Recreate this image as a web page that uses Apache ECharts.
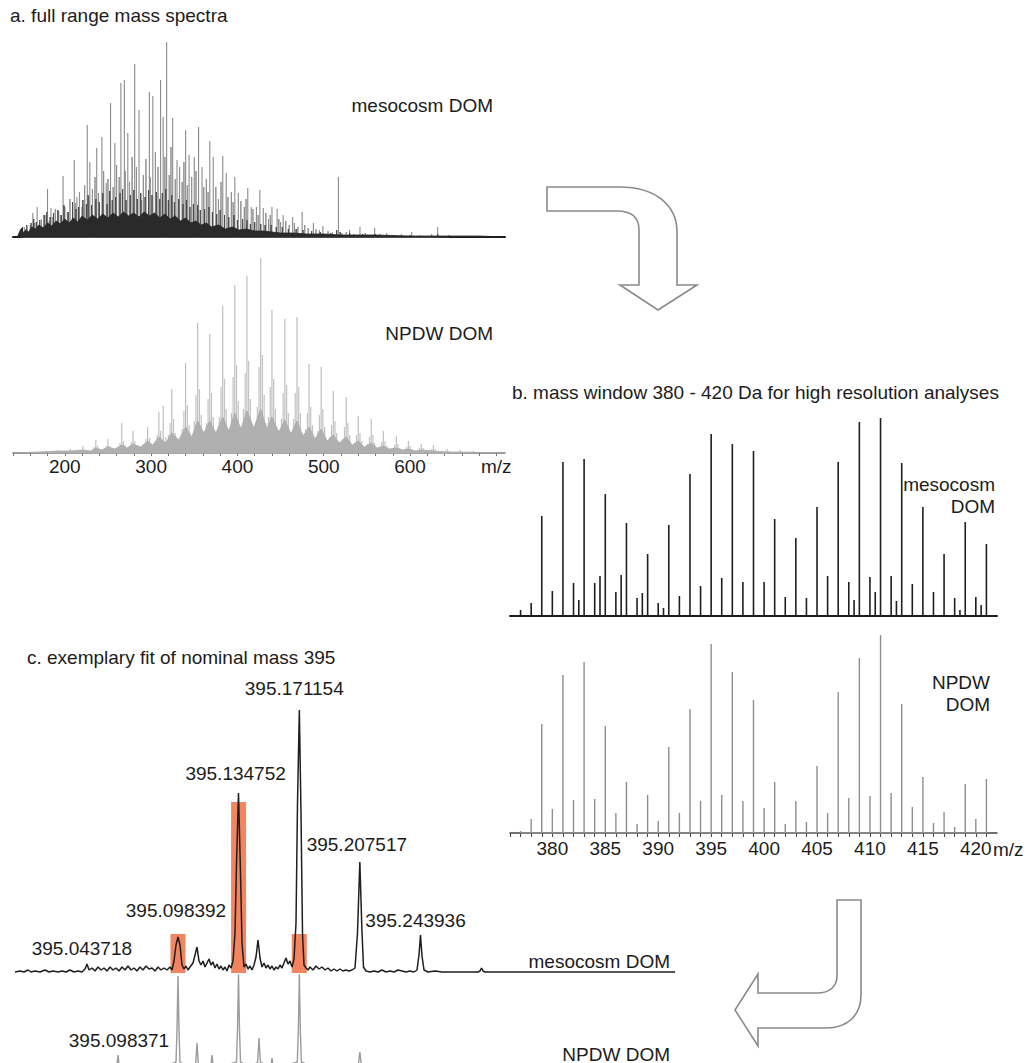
<!DOCTYPE html>
<html><head><meta charset="utf-8">
<script src="https://cdn.jsdelivr.net/npm/echarts@6.0.0/dist/echarts.min.js"></script>
<style>html,body{margin:0;padding:0;background:#fff}#c{width:1030px;height:1063px}</style>
</head><body><div id="c"></div>
<script>
// ---------- panel a: full range spectra (m/z, relative intensity) ----------
const aTicks = [200, 300, 400, 500, 600];
const mesoAMain = [[153,10],[163,24],[168,30],[180,48],[184,29],[193,26],[198,61],[211,77],[214,40],[226,112],[229,75],[237,89],[243,100],[248,54],[253,134],[258,94],[265,154],[269,157],[273,104],[281,173],[286,127],[289,37],[298,145],[302,141],[311,157],[314,120],[318,195],[325,119],[330,77],[340,107],[344,82],[350,80],[355,110],[359,70],[368,96],[372,80],[383,81],[387,64],[397,60],[401,44],[412,49],[416,30],[426,47],[430,29],[440,30],[446,28],[453,22],[464,20],[475,25],[488,14],[499,11],[517,60],[530,7],[542,10],[559,9],[573,4],[602,5],[632,10]];
const mesoAFill = [[150,6],[154,8],[157,5],[160,12],[165,14],[170,10],[173,18],[177,22],[182,16],[186,20],[189,28],[195,22],[200,30],[203,25],[206,38],[212,34],[217,45],[220,30],[223,52],[228,40],[232,48],[235,60],[239,44],[245,66],[250,58],[256,50],[260,72],[263,60],[270,66],[275,55],[278,80],[283,70],[291,62],[294,78],[299,60],[305,85],[308,70],[316,80],[321,62],[323,90],[328,58],[333,70],[336,55],[338,75],[342,52],[347,60],[352,66],[361,50],[364,58],[366,45],[375,50],[378,38],[381,55],[389,40],[393,45],[395,35],[404,36],[408,30],[410,38],[418,28],[422,30],[424,22],[433,24],[436,18],[438,22],[448,18],[450,15],[456,16],[460,12],[466,14],[470,10],[478,12],[482,9],[491,8],[495,7],[505,6],[510,5],[521,4],[526,5],[535,3],[548,4],[565,3],[580,2],[590,3],[612,2],[625,3],[645,2]];
const mesoAMid = [[151,10],[156,12],[161,14],[164,18],[167,15],[171,17],[176,22],[179,25],[183,20],[187,24],[192,27],[196,22],[199,32],[204,25],[209,35],[213,28],[216,30],[221,37],[225,33],[227,42],[231,32],[236,38],[240,35],[244,44],[249,33],[252,46],[255,37],[259,40],[264,44],[267,48],[271,37],[276,42],[280,47],[284,38],[288,44],[293,40],[297,47],[301,42],[306,45],[310,38],[313,44],[317,48],[320,37],[324,42],[327,35],[332,38],[337,33],[341,37],[345,30],[349,33],[354,32],[357,27],[362,28],[367,30],[371,25],[376,23],[380,27],[385,22],[390,20],[396,22],[400,17],[406,18],[411,17],[415,13],[420,15],[427,13],[432,12],[439,12],[445,10],[452,10],[459,8],[468,8],[476,7],[486,6],[496,5],[508,4],[515,7],[519,5],[530,4],[545,3],[560,3],[575,2],[600,2],[632,3]];
const mesoAFloor = [[145,0],[148,6],[150,9],[152,4],[155,7],[158,5],[162,10],[166,8],[170,12],[175,9],[180,14],[185,11],[190,16],[195,13],[200,18],[205,14],[210,19],[215,15],[220,21],[226,17],[232,22],[238,18],[244,23],[250,19],[256,24],[262,20],[268,25],[274,21],[280,24],[286,20],[292,25],[298,21],[304,24],[310,19],[316,23],[322,18],[328,21],[334,16],[340,19],[346,14],[352,16],[358,12],[364,14],[370,10],[378,12],[386,8],[394,10],[402,7],[410,8],[420,6],[430,6],[440,5],[450,4],[465,4],[480,3],[500,3],[520,2],[560,2],[600,1],[640,1],[680,1],[708,0]];
const npdwAMain = [[179,2],[192,3],[206,4],[221,7],[236,13],[250,14],[266,30],[279,22],[296,26],[309,41],[314,47],[324,64],[340,90],[354,130],[368,119],[383,147],[397,168],[411,177],[427,195],[440,143],[455,134],[469,136],[483,89],[497,86],[511,62],[526,56],[540,37],[555,34],[569,22],[584,17],[598,12],[613,9],[627,8],[643,4],[658,3],[673,2]];
const npdwAFill = [[232,3],[234,6],[238,7],[240,4],[246,4],[248,7],[252,7],[254,4],[262,6],[264,10],[268,12],[270,8],[275,7],[277,11],[281,12],[283,7],[292,9],[294,14],[298,15],[300,9],[305,12],[307,18],[311,22],[317,16],[320,18],[322,30],[326,34],[328,20],[330,10],[336,24],[338,42],[342,48],[344,28],[346,14],[350,32],[352,58],[356,64],[358,38],[360,18],[364,30],[366,54],[370,60],[372,36],[374,18],[379,36],[381,66],[385,74],[387,44],[389,22],[393,40],[395,76],[399,88],[401,52],[403,26],[407,44],[409,80],[413,92],[415,54],[417,28],[423,46],[425,86],[429,98],[431,58],[433,30],[436,36],[438,66],[442,74],[444,44],[446,22],[451,34],[453,60],[457,68],[459,40],[461,20],[465,34],[467,60],[471,66],[473,40],[475,20],[479,24],[481,40],[485,46],[487,28],[489,14],[493,22],[495,38],[499,44],[501,26],[503,12],[507,16],[509,28],[513,32],[515,20],[517,10],[522,14],[524,26],[528,30],[530,18],[536,10],[538,18],[542,20],[544,12],[551,9],[553,16],[557,18],[559,10],[565,6],[567,11],[571,12],[573,7],[580,5],[582,8],[586,9],[588,5],[596,6],[600,7],[602,4],[611,5],[615,5],[625,4],[629,4],[641,2],[645,2]];
const npdwAFloor = [[145,0],[170,1],[192,2],[206,2],[221,3],[230,2],[236,5],[243,3],[250,6],[258,4],[266,8],[272,5],[279,9],[288,6],[296,12],[302,8],[309,16],[317,10],[324,20],[332,13],[340,26],[347,16],[354,32],[361,20],[368,32],[375,20],[383,36],[390,22],[397,40],[404,24],[411,42],[419,25],[427,44],[434,24],[440,36],[448,21],[455,33],[462,19],[469,32],[476,17],[483,26],[490,14],[497,24],[504,12],[511,18],[518,10],[526,16],[533,8],[540,12],[547,6],[555,10],[562,5],[569,7],[576,4],[584,5],[591,3],[598,4],[606,2],[613,3],[627,2],[643,1],[660,1],[708,0]];

// ---------- panel b: mass window 380-420 ----------
const bTicks = [380, 385, 390, 395, 400, 405, 410, 415, 420];
const bMz = [377,378,379,380,381,382,383,384,385,386,387,388,389,390,391,392,393,394,395,396,397,398,399,400,401,402,403,404,405,406,407,408,409,410,411,412,413,414,415,416,417,418,419,420,421];
const bMeso = [6,13,100,25,154,33,157,33,122,24,93,18,62,13,91,20,142,30,182,38,172,34,165,34,97,19,78,18,109,40,154,34,194,39,198,40,153,32,109,24,62,18,94,19,72];
const bNpdw = [2,14,109,24,158,33,171,34,107,20,51,9,38,12,86,20,124,32,189,38,161,32,133,25,51,9,32,11,67,20,141,35,175,37,198,40,129,26,56,10,21,6,49,14,54];
const bMesoHalfMz = [382.5,384.5,386.5,388.5,390.5,408.5,410.5,412.5,418.5,420.5];
const bMesoHalf = [16,40,41,23,8,16,24,15,6,11];

// ---------- panel c: nominal mass 395 ----------
const cMeso = [[395.0006,1],[395.0036,2],[395.0060,1],[395.0084,3],[395.0102,1],[395.0126,2],[395.0156,1],[395.0186,3],[395.0210,1],[395.0234,2],[395.0264,1],[395.0288,2],[395.0312,1],[395.0336,3],[395.0360,1],[395.0384,2],[395.0408,1],[395.0426,4],[395.0438,9],[395.0450,3],[395.0468,5],[395.0486,2],[395.0504,6],[395.0522,3],[395.0540,5],[395.0558,2],[395.0576,6],[395.0594,3],[395.0612,5],[395.0630,2],[395.0648,6],[395.0666,3],[395.0684,7],[395.0702,3],[395.0720,5],[395.0738,2],[395.0756,6],[395.0774,3],[395.0792,7],[395.0810,4],[395.0828,5],[395.0846,2],[395.0864,6],[395.0882,3],[395.0900,5],[395.0918,3],[395.0936,6],[395.0948,3],[395.0960,12],[395.0972,28],[395.0984,36],[395.0996,28],[395.1008,8],[395.1020,4],[395.1032,7],[395.1044,3],[395.1056,6],[395.1074,10],[395.1086,18],[395.1098,26],[395.1110,12],[395.1122,8],[395.1134,12],[395.1146,6],[395.1158,10],[395.1170,14],[395.1182,8],[395.1194,11],[395.1206,5],[395.1218,9],[395.1230,4],[395.1242,7],[395.1254,3],[395.1266,6],[395.1278,2],[395.1290,8],[395.1302,5],[395.1314,12],[395.1326,40],[395.1335,110],[395.1347,180],[395.1359,100],[395.1368,30],[395.1380,6],[395.1392,9],[395.1404,4],[395.1416,7],[395.1428,3],[395.1440,8],[395.1452,16],[395.1464,33],[395.1476,15],[395.1488,6],[395.1500,10],[395.1512,5],[395.1524,8],[395.1536,4],[395.1548,7],[395.1560,3],[395.1572,6],[395.1584,4],[395.1596,8],[395.1608,5],[395.1620,10],[395.1632,15],[395.1644,9],[395.1656,12],[395.1668,6],[395.1680,14],[395.1692,50],[395.1701,170],[395.1712,263],[395.1722,160],[395.1731,40],[395.1740,8],[395.1752,5],[395.1764,3],[395.1776,6],[395.1794,3],[395.1812,7],[395.1830,4],[395.1848,6],[395.1866,3],[395.1884,5],[395.1902,2],[395.1920,4],[395.1938,2],[395.1956,4],[395.1974,2],[395.1992,3],[395.2010,2],[395.2028,3],[395.2046,5],[395.2061,40],[395.2075,111],[395.2087,45],[395.2097,6],[395.2112,2],[395.2136,1],[395.2160,2],[395.2184,1],[395.2208,3],[395.2232,1],[395.2256,2],[395.2280,1],[395.2304,3],[395.2328,2],[395.2352,1],[395.2376,2],[395.2400,1],[395.2418,3],[395.2430,18],[395.2439,38],[395.2448,17],[395.2460,3],[395.2484,1],[395.2526,2],[395.2568,1],[395.2628,1],[395.2706,1],[395.2784,1],[395.2796,2],[395.2805,5],[395.2814,2],[395.2826,1],[395.2916,1],[395.3036,1],[395.3186,1],[395.3336,1],[395.3516,1],[395.3696,1],[395.3876,1],[395.3966,1]];
const cNpdw = [[395.0000,1],[395.0400,2],[395.0600,3],[395.0618,5],[395.0624,15],[395.0630,5],[395.0650,2],[395.0900,3],[395.0972,8],[395.0978,40],[395.0984,94],[395.0990,40],[395.0996,8],[395.1040,3],[395.1090,6],[395.1098,27],[395.1106,6],[395.1160,3],[395.1182,5],[395.1188,15],[395.1194,5],[395.1240,3],[395.1335,8],[395.1341,40],[395.1347,96],[395.1353,40],[395.1359,8],[395.1420,3],[395.1462,8],[395.1470,32],[395.1478,8],[395.1520,4],[395.1542,5],[395.1548,12],[395.1554,5],[395.1600,3],[395.1700,8],[395.1706,40],[395.1712,96],[395.1718,40],[395.1724,8],[395.1800,3],[395.2066,5],[395.2075,18],[395.2084,5],[395.2200,2],[395.2439,5],[395.2600,1],[395.4000,1]];
const cFitMz = [395.098392, 395.134752, 395.171154];
const cFitInt = [39, 171, 39];
const cLabelMz = [395.043718, 395.098392, 395.134752, 395.171154, 395.207517, 395.243936];
const cLabelInt = [9, 36, 180, 263, 111, 38];
const cNpdwLabelMz = [395.098371];
const cNpdwLabelInt = [94];

// ---------- build ----------
const FONT = '"Liberation Sans", Arial, Helvetica, sans-serif';
const TXT = '#1c1c1c';
function sticks(pairs){ const o=[]; pairs.slice().sort((a,b)=>a[0]-b[0]).forEach(([m,h])=>{o.push([m,0],[m,h],[m,0]);}); return o; }
function zip(xs, ys){ return xs.map((x,i)=>[x, ys[i]]); }

const grids = [
  {left:13, width:492, top:37, height:200},
  {left:13, width:492, top:253, height:200},
  {left:510, width:487, top:416, height:200},
  {left:510, width:487, top:633, height:200},
  {left:14, width:665, top:700, height:273},
  {left:14, width:665, top:975, height:95}
].map(g=>Object.assign({outerBoundsMode:'none', containLabel:false}, g));

const hiddenY = (max, gi) => ({type:'value', gridIndex:gi, min:0, max:max, show:false});

const xAxes = [
  {type:'value', gridIndex:0, min:140, max:710, interval:20,
   axisLine:{lineStyle:{color:'#1e1e1e', width:2}}, axisTick:{show:false}, axisLabel:{show:false}, splitLine:{show:false}},
  {type:'value', gridIndex:1, min:140, max:710, interval:20,
   axisLine:{lineStyle:{color:'#777', width:1.5}}, axisTick:{show:true, length:3, lineStyle:{color:'#777'}},
   axisLabel:{margin:4, fontSize:19, fontFamily:FONT, color:TXT, interval:0, showMaxLabel:false,
     formatter:v=>aTicks.includes(v)?String(v):''}, splitLine:{show:false}},
  {type:'value', gridIndex:2, min:376, max:422, interval:1,
   axisLine:{lineStyle:{color:'#1e1e1e', width:2}}, axisTick:{show:false}, axisLabel:{show:false}, splitLine:{show:false}},
  {type:'value', gridIndex:3, min:376, max:422, interval:1,
   axisLine:{lineStyle:{color:'#444', width:1.5}}, axisTick:{show:true, length:4, lineStyle:{color:'#444'}},
   axisLabel:{margin:6, fontSize:19, fontFamily:FONT, color:TXT, interval:0, showMaxLabel:false,
     formatter:v=>bTicks.includes(v)?String(v):''}, splitLine:{show:false}},
  {type:'value', gridIndex:4, min:395.0, max:395.399, show:false},
  {type:'value', gridIndex:5, min:395.0, max:395.399, show:false}
];
const yAxes = [hiddenY(200,0), hiddenY(200,1), hiddenY(200,2), hiddenY(200,3), hiddenY(273,4), hiddenY(95,5)];

const lineBase = {type:'line', showSymbol:false, symbol:'none', silent:true, animation:false, smooth:false};

// decorative arrows (outline shapes in pixel space)
const arrowPaths = [
  'M547 187 L620 187 C655 187 677 205 677 232 L677 285 L697 285 L658 310 L620 285 L639 285 L639 230 C639 218 632 211 617 211 L547 211 Z',
  'M837 900 L861 900 L861 995 C861 1015 848 1028 826 1028 L758 1028 L758 1046 L735 1010 L758 974 L758 993 L817 993 C830 993 837 986 837 976 Z'
];

const labelScatter = (xi, data, offsets) => ({
  type:'scatter', xAxisIndex:xi, yAxisIndex:xi, symbolSize:1, silent:true, animation:false, z:5,
  itemStyle:{color:'rgba(0,0,0,0)', opacity:1},
  data:data.map((v,i)=>({value:v, label:{offset:offsets[i]}})),
  label:{show:true, position:'inside', fontSize:19, fontFamily:FONT, color:TXT, opacity:1, textBorderWidth:0, formatter:p=>p.value[0].toFixed(6)}
});

const series = [
  Object.assign({}, lineBase, {xAxisIndex:0, yAxisIndex:0, data:sticks(mesoAFill), lineStyle:{color:'#8f8f8f', width:1}, z:2}),
  Object.assign({}, lineBase, {xAxisIndex:0, yAxisIndex:0, data:sticks(mesoAMain), lineStyle:{color:'#8a8a8a', width:1.1}, z:3}),
  Object.assign({}, lineBase, {xAxisIndex:0, yAxisIndex:0, data:sticks(mesoAMid), lineStyle:{color:'#4a4a4a', width:1}, z:4}),
  Object.assign({}, lineBase, {xAxisIndex:0, yAxisIndex:0, data:mesoAFloor, lineStyle:{color:'#262626', width:0.8}, areaStyle:{color:'#2a2a2a', opacity:1}, z:5}),

  Object.assign({}, lineBase, {xAxisIndex:1, yAxisIndex:1, data:sticks(npdwAFill), lineStyle:{color:'#c2c2c2', width:1.2}, z:2}),
  Object.assign({}, lineBase, {xAxisIndex:1, yAxisIndex:1, data:sticks(npdwAMain), lineStyle:{color:'#b8b8b8', width:1.1}, z:3}),
  Object.assign({}, lineBase, {xAxisIndex:1, yAxisIndex:1, data:npdwAFloor, lineStyle:{color:'#aaaaaa', width:0.8}, areaStyle:{color:'#b0b0b0', opacity:1}, z:4}),

  Object.assign({}, lineBase, {xAxisIndex:2, yAxisIndex:2, data:sticks(zip(bMz,bMeso).concat(zip(bMesoHalfMz,bMesoHalf))), lineStyle:{color:'#1e1e1e', width:1.6}, z:3}),
  Object.assign({}, lineBase, {xAxisIndex:3, yAxisIndex:3, data:sticks(zip(bMz,bNpdw)), lineStyle:{color:'#8e8e8e', width:1.4}, z:3}),

  {type:'bar', xAxisIndex:4, yAxisIndex:4, data:zip(cFitMz,cFitInt), barWidth:15, itemStyle:{color:'#f2855f'}, silent:true, animation:false, z:1},
  Object.assign({}, lineBase, {xAxisIndex:4, yAxisIndex:4, data:cMeso, lineStyle:{color:'#1e1e1e', width:1.5}, z:3}),
  labelScatter(4, zip(cLabelMz, cLabelInt), [[-5,-16],[-2,-27],[-3,-20],[-5,-22],[-3,-18],[-5,-15]]),
  Object.assign({}, lineBase, {xAxisIndex:5, yAxisIndex:5, data:cNpdw, lineStyle:{color:'#9c9c9c', width:1.4}, z:2}),
  labelScatter(5, zip(cNpdwLabelMz, cNpdwLabelInt), [[-59,64]]),
  {type:'custom', coordinateSystem:'none', silent:true, animation:false, z:9, data:[0],
   renderItem:()=>({type:'group', children:arrowPaths.map(d=>({type:'path', shape:{pathData:d}, style:{fill:'#fff', stroke:'#8a8a8a', lineWidth:1.6}}))})}
];

function txt(text, x, y, align){ return {type:'text', silent:true, z:10, style:{text:text, x:x, y:y, fill:TXT, font:'19px '+FONT, textAlign:align||'left', align:align||'left', textVerticalAlign:'middle', verticalAlign:'middle'}}; }

const graphics = [
  txt('a. full range mass spectra', 10, 15),
  txt('mesocosm DOM', 493, 105, 'right'),
  txt('NPDW DOM', 493, 333, 'right'),
  txt('m/z', 481, 466),
  txt('b. mass window 380 - 420 Da for high resolution analyses', 512, 392),
  txt('mesocosm', 995, 484, 'right'),
  txt('DOM', 995, 506, 'right'),
  txt('NPDW', 990, 682, 'right'),
  txt('DOM', 990, 704, 'right'),
  txt('m/z', 993, 849),
  txt('c. exemplary fit of nominal mass 395', 27, 657),
  txt('mesocosm DOM', 670, 961, 'right'),
  txt('NPDW DOM', 670, 1054, 'right')
];

const chart = echarts.init(document.getElementById('c'), null, {renderer:'svg', width:1030, height:1063});
chart.setOption({
  animation:false,
  backgroundColor:'#ffffff',
  textStyle:{fontFamily:FONT},
  grid:grids, xAxis:xAxes, yAxis:yAxes, series:series, graphic:graphics
});
</script></body></html>
